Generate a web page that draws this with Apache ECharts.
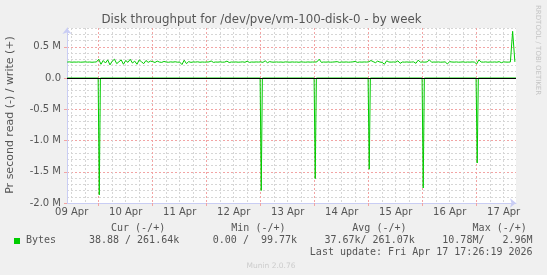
<!DOCTYPE html>
<html><head><meta charset="utf-8">
<script src="https://cdn.jsdelivr.net/npm/echarts@6/dist/echarts.min.js"></script>
<style>html,body{margin:0;padding:0;background:#f0f0f0}#c{width:547px;height:275px}</style>
</head><body><div id="c"></div>
<script>
// x = hours since 09 Apr 00:00 ; y = millions of bytes per second
const startHour = 9.9, endHour = 209.5;
const yMin = -2.0, yMax = 0.8;
const dayLabels = ['09 Apr','10 Apr','11 Apr','12 Apr','13 Apr','14 Apr','15 Apr','16 Apr','17 Apr'];
const yTickValues = [-2.0, -1.5, -1.0, -0.5, 0, 0.5];
const yTickLabels = ['-2.0 M', '-1.5 M', '-1.0 M', '-0.5 M', '0.0', '0.5 M'];

// write (+), hourly from hour 10
const writeStartHour = 10;
const writeValues = [
  0.255,0.258,0.252,0.256,0.254,0.257,0.253,0.255,0.258,0.254,0.256,0.252,0.255,0.257,
  0.30,0.22,0.28,0.24,0.29,0.21,0.27,0.30,0.23,0.26,0.29,0.22,0.28,0.25,0.30,0.24,0.27,0.22,0.29,0.26,0.23,0.28,0.25,0.27,
  0.262,0.248,0.270,0.255,0.250,0.265,0.256,0.252,0.258,0.254,0.260,0.253,0.255,0.215,0.285,0.230,0.262,0.250,0.257,0.255,0.259,0.252,0.256,0.254,
  0.255,0.257,0.272,0.250,0.256,0.254,0.258,0.253,0.255,0.270,0.248,0.256,0.254,0.257,0.253,0.255,0.258,0.252,0.268,0.250,0.256,0.254,0.257,0.255,
  0.258,0.250,0.275,0.245,0.262,0.255,0.253,0.257,0.254,0.256,0.252,0.258,0.255,0.253,0.257,0.254,0.256,0.252,0.258,0.255,0.253,0.257,0.254,0.256,
  0.255,0.258,0.300,0.250,0.256,0.254,0.257,0.253,0.255,0.258,0.262,0.250,0.256,0.254,0.257,0.253,0.255,0.258,0.265,0.250,0.256,0.254,0.257,0.255,
  0.258,0.280,0.262,0.245,0.270,0.255,0.250,0.220,0.275,0.256,0.254,0.257,0.253,0.275,0.235,0.256,0.254,0.257,0.253,0.255,0.258,0.235,0.285,0.254,
  0.256,0.254,0.258,0.290,0.252,0.256,0.254,0.257,0.253,0.255,0.258,0.225,0.262,0.256,0.254,0.257,0.253,0.255,0.258,0.252,0.256,0.254,0.257,0.255,
  0.225,0.290,0.256,0.254,0.258,0.253,0.256,0.254,0.257,0.253,0.262,0.245,0.258,0.255,0.254,0.256,0.747,0.258
];

// read (-), sparse samples
const readHours = [10, 23.75,24.25,24.75, 95.75,96.25,96.75, 119.75,120.25,120.75, 143.75,144.25,144.75, 167.75,168.25,168.75, 191.75,192.25,192.75, 209.5];
const readValues = [0, 0,1.87,0, 0,1.80,0, 0,1.61,0, 0,1.46,0, 0,1.76,0, 0,1.36,0, 0];

const legendHead = ['Cur (-/+)', 'Min (-/+)', 'Avg (-/+)', 'Max (-/+)'];
const legendName = 'Bytes';
const legendVals = ['38.88 / 261.64k', '0.00 /  99.77k', '37.67k/ 261.07k', '10.78M/   2.96M'];
const lastUpdate = 'Last update: Fri Apr 17 17:26:19 2026';

// derived tick lists
const midnights = [], sixes = [], noons = [];
for (let h = 0; h <= endHour; h += 6) {
  if (h < startHour) continue;
  if (h % 24 === 0) midnights.push(h); else sixes.push(h);
}
for (let d = 0; d < dayLabels.length; d++) noons.push(d * 24 + 12);
const yMinor = [], yMajor = [];
for (let k = Math.round(yMin * 10); k <= Math.round(yMax * 10); k++) {
  if (k % 5 === 0) yMajor.push(k / 10); else yMinor.push(k / 10);
}

const GRAY = '#d6d6d6', RED = '#f2a4a4', AXIS = '#c9cdf4', TXT = '#555555', GREEN = '#00cc00';
const chart = echarts.init(document.getElementById('c'), null, {renderer: 'canvas'});
const monoFont = '10px "DejaVu Sans Mono"';
const graphics = [
  {type:'text', x:261.5, y:20, style:{text:'Disk throughput for /dev/pve/vm-100-disk-0 - by week', font:'11.8px "DejaVu Sans"', fill:TXT, align:'center', verticalAlign:'middle'}},
  {type:'text', x:10.5, y:115, rotation:Math.PI/2, style:{text:'Pr second read (-) / write (+)', font:'11px "DejaVu Sans"', fill:TXT, align:'center', verticalAlign:'middle'}},
  {type:'text', x:537.5, y:5, rotation:-Math.PI/2, style:{text:'RRDTOOL / TOBI OETIKER', font:'7px "DejaVu Sans"', fill:'#c4c4c4', align:'left', verticalAlign:'middle'}},
  {type:'text', x:271, y:266, style:{text:'Munin 2.0.76', font:'7.5px "DejaVu Sans"', fill:'#cccccc', align:'center', verticalAlign:'middle'}},
  {type:'rect', shape:{x:14, y:238, width:6, height:6}, style:{fill:GREEN}},
  {type:'text', x:26, y:240.5, style:{text:legendName, font:monoFont, fill:TXT, verticalAlign:'middle'}},
  {type:'text', x:532.6, y:252.3, style:{text:lastUpdate, font:monoFont, fill:TXT, align:'right', verticalAlign:'middle'}}
];
const headX = [111, 231.3, 352.3, 472.6];
const valX = [88.9, 212.8, 324.4, 442.3];
legendHead.forEach((t, i) => graphics.push({type:'text', x:headX[i], y:228.3, style:{text:t, font:monoFont, fill:TXT, verticalAlign:'middle'}}));
legendVals.forEach((t, i) => graphics.push({type:'text', x:valX[i], y:240.5, style:{text:t, font:monoFont, fill:TXT, verticalAlign:'middle'}}));

chart.setOption({
  animation: false,
  backgroundColor: '#f0f0f0',
  grid: {left:67, right:31, top:28, bottom:72, show:true, backgroundColor:'#ffffff', borderWidth:0, outerBoundsMode:'none'},
  xAxis: [
    {type:'value', min:startHour, max:endHour, position:'bottom',
     axisLine:{show:false}, axisTick:{show:false, customValues:sixes}, axisLabel:{show:false},
     splitLine:{show:true, lineStyle:{color:GRAY, width:1, type:[2,2]}}},
    {type:'value', min:startHour, max:endHour, position:'bottom',
     axisLine:{show:true, onZero:false, symbol:['none','arrow'], symbolSize:[7,6], lineStyle:{color:AXIS, width:1}},
     axisTick:{show:true, customValues:midnights, length:3, lineStyle:{color:RED}},
     axisLabel:{show:true, customValues:noons, margin:4, color:TXT, fontSize:10, fontFamily:'DejaVu Sans',
       formatter: v => dayLabels[Math.round((v - 12) / 24)]},
     splitLine:{show:true, lineStyle:{color:RED, width:1, type:[2,2]}}}
  ],
  yAxis: [
    {type:'value', min:yMin, max:yMax,
     axisLine:{show:false}, axisTick:{show:false, customValues:yMinor}, axisLabel:{show:false},
     splitLine:{show:true, lineStyle:{color:GRAY, width:1, type:[2,2]}}},
    {type:'value', min:yMin, max:yMax, position:'left',
     axisLine:{show:true, onZero:false, symbol:['none','arrow'], symbolSize:[7,6], lineStyle:{color:AXIS, width:1}},
     axisTick:{show:true, customValues:yMajor, length:3, lineStyle:{color:RED}},
     axisLabel:{show:true, customValues:yTickValues, margin:6, color:TXT, fontSize:10, fontFamily:'DejaVu Sans',
       formatter: v => yTickLabels[yTickValues.findIndex(t => Math.abs(t - v) < 1e-6)]},
     splitLine:{show:true, lineStyle:{color:RED, width:1, type:[2,2]}}}
  ],
  series: [
    {type:'line', name:'write', xAxisIndex:1, yAxisIndex:1, symbol:'none', showSymbol:false, z:3,
     lineStyle:{color:GREEN, width:1}, itemStyle:{color:GREEN},
     data: writeValues.map((v, i) => [writeStartHour + i, v])},
    {type:'line', name:'read', xAxisIndex:1, yAxisIndex:1, symbol:'none', showSymbol:false, z:3,
     lineStyle:{color:GREEN, width:1}, itemStyle:{color:GREEN},
     data: readHours.map((h, i) => [h, -readValues[i]]),
     markLine:{silent:true, symbol:['none','none'], label:{show:false}, animation:false,
       lineStyle:{color:'#000000', width:1, type:'solid'}, data:[{yAxis:0}]}}
  ],
  graphic: graphics
});
</script></body></html>
